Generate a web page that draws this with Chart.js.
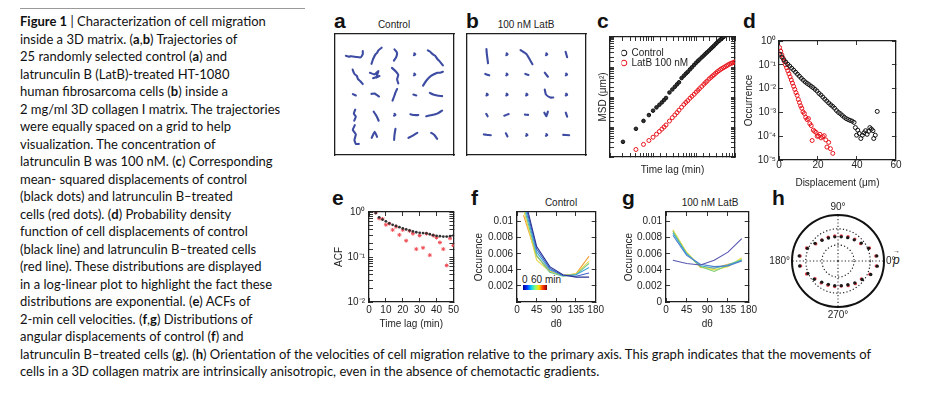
<!DOCTYPE html>
<html>
<head>
<meta charset="utf-8">
<title>Figure 1 - cell migration in 3D matrix</title>
<script src="https://cdn.jsdelivr.net/npm/chart.js"></script>
<style>
  html, body { margin: 0; padding: 0; background: #fff; }
  #fig { position: relative; width: 926px; height: 394px; overflow: hidden; background: #fff; }
  #fig canvas { position: absolute; }
  .rule { position: absolute; left: 20px; top: 8px; width: 285px; height: 1px; background: #9a9a9a; }
  .cap { position: absolute; left: 20px; top: 13px; font-family: Lato, 'Open Sans', sans-serif; font-size: 13px; line-height: 17.5px; color: #111; white-space: nowrap; }
  .cap b { font-weight: 700; }
  .lab { position: absolute; font-family: 'Liberation Sans', Arial, sans-serif; font-weight: 700; font-size: 21px; line-height: 21px; color: #111; }
  .ttl { position: absolute; font-family: 'Liberation Sans', Arial, sans-serif; font-size: 10px; line-height: 10px; color: #222; white-space: nowrap; transform: translateX(-50%); }
  .small { position: absolute; font-family: 'Liberation Sans', Arial, sans-serif; font-size: 10px; line-height: 10px; color: #222; white-space: nowrap; }
  .cbar { position: absolute; left: 523px; top: 285px; width: 24px; height: 5px;
          background: linear-gradient(to right, #00008f, #0030ff, #00c8ff, #80ff80, #ffe000, #ff3000, #800000); }
</style>
</head>
<body>
<div id="fig">
  <div class="rule"></div>
  <div class="cap"><b>Figure 1</b> | Characterization of cell migration<br>inside a 3D matrix. (<b>a</b>,<b>b</b>) Trajectories of<br>25 randomly selected control (<b>a</b>) and<br>latrunculin B (LatB)-treated HT-1080<br>human fibrosarcoma cells (<b>b</b>) inside a<br>2 mg/ml 3D collagen I matrix. The trajectories<br>were equally spaced on a grid to help<br>visualization. The concentration of<br>latrunculin B was 100 nM. (<b>c</b>) Corresponding<br>mean- squared displacements of control<br>(black dots) and latrunculin B–treated<br>cells (red dots). (<b>d</b>) Probability density<br>function of cell displacements of control<br>(black line) and latrunculin B–treated cells<br>(red line). These distributions are displayed<br>in a log-linear plot to highlight the fact these<br>distributions are exponential. (<b>e</b>) ACFs of<br>2-min cell velocities. (<b>f</b>,<b>g</b>) Distributions of<br>angular displacements of control (<b>f</b>) and<br>latrunculin B–treated cells (<b>g</b>). (<b>h</b>) Orientation of the velocities of cell migration relative to the primary axis. This graph indicates that the movements of<br>cells in a 3D collagen matrix are intrinsically anisotropic, even in the absence of chemotactic gradients.</div>

  <div class="lab" style="left:334px;top:10px">a</div>
  <div class="lab" style="left:466px;top:10px">b</div>
  <div class="lab" style="left:597px;top:10px">c</div>
  <div class="lab" style="left:743px;top:10px">d</div>
  <div class="lab" style="left:332px;top:187px">e</div>
  <div class="lab" style="left:471px;top:187px">f</div>
  <div class="lab" style="left:622px;top:187px">g</div>
  <div class="lab" style="left:772px;top:187px">h</div>

  <div class="ttl" style="left:394px;top:20px">Control</div>
  <div class="ttl" style="left:526px;top:20px">100 nM LatB</div>
  <div class="ttl" style="left:561px;top:198px">Control</div>
  <div class="ttl" style="left:710px;top:198px">100 nM LatB</div>

  <div class="cbar"></div>
  <div class="small" style="left:522px;top:275px">0</div>
  <div class="small" style="left:531px;top:275px">60 min</div>

  <div class="small" style="left:893px;top:254px;font-size:12px;line-height:12px;font-style:italic">p</div>
  <div class="small" style="left:893px;top:247px;font-size:7px;line-height:7px">&#8594;</div>
</div>

<script>
// ======================= DATA =======================
// (a,b) trajectories: successive positions relative to the grid cell centre (grid units, y up)
const DOT = [[0, 0.04], [0.05, -0.01], [-0.02, -0.05]];
const trajControl = [
  [[-0.45,-0.08],[-0.3,-0.12],[-0.16,-0.1],[0.08,-0.14],[0.29,-0.16],[0.4,0],[0.4,0.16]],
  [[-0.16,-0.48],[-0.1,-0.3],[-0.08,-0.24],[0.05,0],[0.12,0.06],[0.19,0.19],[0.35,0.32]],
  [[0,0.24],[0.1,0.12],[0.13,0.03],[0.08,-0.16],[-0.03,-0.32]],
  DOT,
  [[-0.32,0.19],[-0.2,0.12],[-0.08,0],[0.05,-0.08],[0.16,-0.24],[0.3,-0.38],[0.44,-0.56]],
  [[-0.11,0.24],[-0.06,0.1],[0,0],[0.1,-0.08],[0.16,-0.24],[0.28,-0.34],[0.4,-0.48]],
  [[-0.24,0.08],[0,0],[0.19,0.16],[0.08,-0.16],[0.24,-0.08],[-0.08,-0.19]],
  [[-0.13,0.32],[0.08,0.13],[0.19,-0.03],[0.13,-0.24],[0.19,-0.45]],
  DOT,
  [[-0.56,-0.56],[-0.4,-0.32],[-0.16,-0.08],[0.16,0.08],[0.3,0.08],[0.44,0.13]],
  [[-0.1,0.02],[0.05,-0.05]],
  [[-0.16,0.03],[0,0.05],[0.1,-0.02],[0.22,-0.1]],
  [[-0.1,-0.3],[0,-0.05],[0.04,0.08],[0.13,0.27]],
  [[-0.05,0],[0.1,-0.05]],
  [[-0.22,0.08],[-0.05,0],[0.15,-0.05],[0.4,-0.08]],
  [[0.02,0.25],[-0.05,0.05],[0.05,-0.1],[-0.03,-0.3]],
  [[-0.05,0.15],[0.05,0],[0.12,-0.12],[0.2,-0.3]],
  DOT,
  [[-0.2,0.02],[0,-0.02],[0.2,-0.02]],
  [[-0.4,-0.08],[-0.1,-0.02],[0.15,0.05],[0.4,0.2]],
  [[0,0.48],[-0.1,0.25],[0.05,0.02],[-0.02,-0.25],[0.05,-0.45],[0.2,-0.45]],
  [[-0.15,-0.15],[0,0.15],[0.12,-0.1]],
  [[0.05,0.3],[0,0],[-0.02,-0.25]],
  [[-0.3,-0.15],[-0.1,-0.05],[0.15,0.1]],
  [[-0.15,0.1],[0,0],[0.15,-0.2],[0.05,-0.05]]
];
const trajLatB = [
  [[-0.02,0.25],[0,0],[0.06,-0.45]],
  DOT,
  [[-0.3,0.2],[0,0],[0.3,-0.5]],
  DOT,
  [[-0.03,0.12],[0.05,-0.15]],
  [[-0.08,0.02],[0.12,-0.05]],
  DOT,
  [[-0.06,0.02],[0.1,-0.03]],
  [[-0.08,0.08],[0.08,-0.12]],
  DOT,
  DOT,
  DOT,
  DOT,
  [[-0.08,0.25],[-0.02,0],[0.2,-0.15],[0.35,-0.15]],
  DOT,
  [[-0.03,0.04],[0.04,-0.08]],
  [[-0.12,-0.05],[0.1,0.03]],
  [[-0.08,0],[0.08,-0.01]],
  [[-0.1,0.1],[0,-0.08],[0.08,0.15]],
  [[-0.02,0.1],[0.05,-0.1]],
  [[-0.15,0.02],[0,0],[0.2,-0.02]],
  [[-0.04,0.08],[0.04,-0.08]],
  DOT,
  DOT,
  [[-0.15,0],[0.15,-0.02]]
];

// (c) mean-squared displacement vs time lag (min)
const msdLag = [2,4,6,8,10,12,14,16,18,20,24,28,32,36,40,46,52,58,64,72,80,90,100,110,120,135,150,165,180,200,220,240,260,285,310,340,370,400,435,470,510,550,600,650,700,760,800];
const msdControl = [3.2,8.7,16,25,35,45,55,66,79,93,141,178,219,263,309,427,513,603,692,832,977,1175,1380,1585,1778,2089,2399,2754,3090,3548,4074,4571,5129,5888,6607,7413,8318,9120,10000,null,null,null,null,null,null,null,null];
const msdLatB = [null,1.78,2.63,3.55,4.57,5.75,7.08,8.5,10,11.7,15.8,20.4,25.1,30.2,36.3,45.7,56.2,66,75.9,91,105,123,145,166,190,224,263,302,339,398,447,501,550,617,692,759,832,891,955,1023,1096,1175,1259,1318,1380,1445,1479];
const msdNames = ['Control', 'LatB 100 nM'];

// (d) displacement probability density
const dispControl = [0.5,1.5,2.5,3.5,4.5,5.5,6.5,7.5,8.5,9.5,10.5,11.5,12.5,13.5,14.5,15.5,16.5,17.5,18.5,19.5,20.5,21.5,22.5,23.5,24.5,25.5,26.5,27.5,28.5,29.5,30.5,31.5,32.5,33.5,34.5,35.5,36.5,37.5,38.5,39.2,39.8,40.4,41.2,42,42.8,43.6,44.4,45.2,46,46.6,47.4,48.2,48.6,49.4,50.4];
const pdfControl = [0.28,0.21,0.16,0.13,0.105,0.088,0.072,0.06,0.049,0.04,0.033,0.027,0.0225,0.019,0.0165,0.0145,0.0125,0.011,0.0093,0.0079,0.0063,0.0054,0.0044,0.0036,0.003,0.0025,0.0021,0.0018,0.0015,0.0012,0.001,0.00088,0.00074,0.00063,0.00055,0.0005,0.00046,0.00043,0.00038,0.00023,0.00011,0.00018,0.00013,0.00008,0.00011,0.00014,0.00017,0.00012,0.00016,0.00023,0.0002,0.00017,0.00008,0.00011,0.0011];
const dispLatB = [0.3,0.9,1.5,2.1,2.7,3.3,3.9,4.5,5.1,5.7,6.3,6.9,7.5,8.1,8.7,9.3,9.9,10.5,11.1,11.7,12.3,13,13.7,14.4,15.1,15.8,16.5,17,17.6,18.3,19,19.6,20.3,21,21.6,22.4,23.2,24,24.6,25.5,26.4,27.6];
const pdfLatB = [0.53,0.37,0.26,0.19,0.14,0.1,0.075,0.056,0.042,0.031,0.023,0.017,0.0125,0.0093,0.0068,0.0052,0.0035,0.0026,0.0019,0.0015,0.00105,0.0009,0.00062,0.0005,0.00055,0.00034,0.00028,0.000066,0.00018,0.00016,0.000145,0.0001,0.0001,0.00012,0.000085,0.000095,0.000105,0.00007,0.000035,0.000055,0.00003,0.000019];

// (e) velocity autocorrelation
const acfLag = [4,6,8,10,12,14,16,18,20,22,24,26,28,30,32,34,36,38,40,42,44,46,48,50];
const acfControl = [0.95,0.76,0.68,0.62,0.56,0.52,0.49,0.46,0.43,0.41,0.39,0.37,0.355,0.345,0.34,0.335,0.32,0.305,0.295,0.29,0.285,0.285,0.29,0.3];
const acfLatB = [0.98,0.72,0.7,0.52,0.55,0.4,0.47,0.31,0.4,0.23,0.38,0.33,0.15,0.3,0.16,0.33,0.11,0.3,0.27,0.21,0.15,0.065,0.26,0.18];

// (f,g) angular displacement distributions, one curve per time lag
const dthetaBins = [15, 45, 75, 105, 135, 165];
const angControl = [
  [0.0135,0.0069,0.0044,0.0034,0.0031,0.0031],
  [0.013,0.0066,0.0042,0.0033,0.0032,0.0036],
  [0.0125,0.0062,0.004,0.0033,0.0034,0.0043],
  [0.012,0.0058,0.0037,0.0032,0.0034,0.0048],
  [0.0115,0.0052,0.0038,0.0033,0.0035,0.0051],
  [0.0108,0.0057,0.0039,0.0033,0.0035,0.0057]
];
const angLatB = [
  [0.0052,0.0048,0.0046,0.0052,0.0062,0.0079],
  [0.0083,0.0058,0.0047,0.0044,0.0045,0.0051],
  [0.0086,0.006,0.0045,0.0042,0.0046,0.0052],
  [0.0088,0.006,0.0044,0.0038,0.0046,0.0053],
  [0.009,0.0062,0.0044,0.004,0.0044,0.0055],
  [0.0089,0.0061,0.0043,0.0042,0.0047,0.0051]
];

// (h) orientation of velocities, polar
const orientAngles = [7.5,22.5,37.5,52.5,67.5,82.5,97.5,112.5,127.5,142.5,157.5,172.5,187.5,202.5,217.5,232.5,247.5,262.5,277.5,292.5,307.5,322.5,337.5,352.5];
const orientControl = [0.85,0.72,0.64,0.58,0.55,0.53,0.53,0.54,0.57,0.63,0.72,0.85,0.84,0.71,0.65,0.58,0.55,0.54,0.54,0.56,0.6,0.66,0.77,0.86];
const orientLatB = [0.83,0.74,0.62,0.6,0.57,0.55,0.55,0.56,0.58,0.61,0.74,0.83,0.82,0.74,0.63,0.6,0.57,0.56,0.55,0.58,0.62,0.64,0.75,0.84];
const orientGrid = [0.35, 0.7, 1];
const orientAxisLabels = {0: '0°', 90: '90°', 180: '180°', 270: '270°'};

// ======================= STYLE / HELPERS =======================
const FONT = "'Liberation Sans', Arial, Helvetica, sans-serif";
const INK = '#1e1e1e';
const TICKF = { family: FONT, size: 10 };
const TRAJ = '#3d4ca2';
const RED = '#e8141c';
const LAG_COLORS_F = ['#283593', '#3f63c9', '#3fa6d8', '#6cc58a', '#e3d94a', '#f2a13a'];
const LAG_COLORS_G = ['#5656b0', '#4d7fd0', '#43b0c8', '#7ccf70', '#e8e04c', '#f0a340'];
Chart.defaults.font.family = FONT;
Chart.defaults.color = INK;

const SUP = {'0':'\u2070','1':'\u00B9','2':'\u00B2','3':'\u00B3','4':'\u2074','5':'\u2075','6':'\u2076','7':'\u2077','8':'\u2078','9':'\u2079','-':'\u207B'};
const isPow10 = v => Math.abs(Math.log10(v) - Math.round(Math.log10(v))) < 1e-6;
const pow10Label = v => isPow10(v) ? '10' + String(Math.round(Math.log10(v))).split('').map(c => SUP[c]).join('') : '';

function makeCanvas(left, top, w, h) {
  const c = document.createElement('canvas');
  c.width = w; c.height = h;
  c.style.left = left + 'px'; c.style.top = top + 'px';
  c.style.width = w + 'px'; c.style.height = h + 'px';
  document.getElementById('fig').appendChild(c);
  return c;
}

function boxScales(o) {
  const mk = (pos, isX, main) => {
    const s = {
      type: isX ? o.xType : o.yType,
      position: pos,
      min: isX ? o.xMin : o.yMin,
      max: isX ? o.xMax : o.yMax,
      grid: { display: o.ticks !== false, drawOnChartArea: false, tickLength: -4, color: INK, lineWidth: 0.9 },
      border: { display: true, color: INK, width: 1.3 },
      ticks: { display: false, autoSkip: false, maxRotation: 0, minRotation: 0, color: INK, font: TICKF, includeBounds: false },
      title: { display: false }
    };
    const step = isX ? o.xStep : o.yStep;
    if (step) s.ticks.stepSize = step;
    const filt = isX ? o.xFilter : o.yFilter;
    if (filt) s.afterBuildTicks = sc => { sc.ticks = sc.ticks.filter(t => filt(t.value)); };
    if (main) {
      const lab = isX ? o.xLabel : o.yLabel;
      if (lab) { s.ticks.display = true; s.ticks.callback = lab; s.ticks.padding = isX ? o.xPad : o.yPad; }
      const ttl = isX ? o.xTitle : o.yTitle;
      if (ttl) s.title = { display: true, text: ttl, color: INK, font: { family: FONT, size: 10 },
                           padding: isX ? { top: 0, bottom: 0 } : { top: o.yTitlePad, bottom: 0 } };
      s.afterFit = isX ? (sc => { sc.height = o.xH; }) : (sc => { sc.width = o.yW; });
    } else {
      s.afterFit = isX ? (sc => { sc.height = 0; }) : (sc => { sc.width = 0; });
    }
    return s;
  };
  return { x: mk('bottom', true, true), x2: mk('top', true, false), y: mk('left', false, true), y2: mk('right', false, false) };
}

function baseOptions(pad, scales, plugins) {
  return {
    responsive: false, animation: false, devicePixelRatio: 1, events: [],
    layout: { padding: pad },
    plugins: Object.assign({ legend: { display: false }, tooltip: { enabled: false }, title: { display: false } }, plugins || {}),
    scales
  };
}

const legendPlace = {
  id: 'legendPlace',
  afterLayout(chart, args, opts) {
    const L = chart.legend;
    if (!L || opts.dx === undefined) return;
    const w = L.width, h = L.height;
    L.left = chart.chartArea.left + opts.dx; L.top = chart.chartArea.top + opts.dy;
    L.right = L.left + w; L.bottom = L.top + h;
  }
};

function pairs(xs, ys) {
  const out = [];
  xs.forEach((x, i) => { if (ys[i] !== null && ys[i] !== undefined) out.push({ x, y: ys[i] }); });
  return out;
}

// ======================= (a), (b) trajectories =======================
function trajDatasets(trajs) {
  return trajs.map((steps, i) => {
    const col = (i % 5) + 1, row = 5 - Math.floor(i / 5);
    return {
      data: steps.map(([dx, dy]) => ({ x: col + dx, y: row + dy })),
      showLine: true, borderColor: TRAJ, borderWidth: 2.1, pointRadius: 0, tension: 0.15,
      borderCapStyle: 'round', borderJoinStyle: 'round', xAxisID: 'x', yAxisID: 'y'
    };
  });
}
const trajScales = () => boxScales({ xType: 'linear', yType: 'linear', xMin: 0, xMax: 6, yMin: 0, yMax: 6, ticks: false, xH: 0, yW: 0 });

new Chart(makeCanvas(330, 30, 130, 130), {
  type: 'scatter',
  data: { datasets: trajDatasets(trajControl) },
  options: baseOptions({ left: 5, top: 4, right: 6, bottom: 5 }, trajScales())
});
new Chart(makeCanvas(462, 30, 130, 130), {
  type: 'scatter',
  data: { datasets: trajDatasets(trajLatB) },
  options: baseOptions({ left: 5, top: 4, right: 6, bottom: 5 }, trajScales())
});

// ======================= (c) MSD =======================
new Chart(makeCanvas(590, 30, 150, 150), {
  type: 'scatter',
  data: { datasets: [
    { label: msdNames[0], data: pairs(msdLag, msdControl), pointRadius: 1.8, pointBorderWidth: 1, borderWidth: 1,
      borderColor: '#111', backgroundColor: '#333', xAxisID: 'x', yAxisID: 'y' },
    { label: msdNames[1], data: pairs(msdLag, msdLatB), pointRadius: 2, pointBorderWidth: 1, borderWidth: 1,
      borderColor: RED, backgroundColor: 'rgba(0,0,0,0)', xAxisID: 'x', yAxisID: 'y' }
  ]},
  options: baseOptions({ left: 0, top: 7, right: 5, bottom: 4 },
    boxScales({ xType: 'logarithmic', yType: 'logarithmic', xMin: 1, xMax: 800, yMin: 1, yMax: 10000,
      xTitle: 'Time lag (min)', yTitle: 'MSD (\u03BCm\u00B2)', xH: 19, yW: 20, yTitlePad: 7 }),
    { legend: { display: true, position: 'chartArea', align: 'start',
        labels: { usePointStyle: true, pointStyle: 'circle', boxWidth: 5, boxHeight: 4, padding: 0, color: INK,
                  font: { family: FONT, size: 10 },
                  generateLabels: chart => chart.data.datasets.map((ds, i) => ({
                    text: ds.label, fillStyle: 'rgba(0,0,0,0)', strokeStyle: ds.borderColor, lineWidth: 1,
                    pointStyle: 'circle', hidden: false, datasetIndex: i, fontColor: INK })) } },
      legendPlace: { dx: 11.5, dy: 11 } }),
  plugins: [legendPlace]
});

// ======================= (d) displacement PDF =======================
new Chart(makeCanvas(740, 28, 165, 170), {
  type: 'scatter',
  data: { datasets: [
    { data: pairs(dispControl, pdfControl), pointRadius: 2, pointBorderWidth: 1, borderColor: '#111',
      backgroundColor: 'rgba(0,0,0,0)', xAxisID: 'x', yAxisID: 'y' },
    { data: pairs(dispLatB, pdfLatB), pointRadius: 2, pointBorderWidth: 1, borderColor: RED,
      backgroundColor: 'rgba(0,0,0,0)', xAxisID: 'x', yAxisID: 'y' }
  ]},
  options: baseOptions({ left: 0, top: 10, right: 8, bottom: 9 },
    boxScales({ xType: 'linear', yType: 'logarithmic', xMin: 0, xMax: 60, xStep: 20, yMin: 1e-5, yMax: 1,
      yFilter: isPow10, xLabel: v => String(v), yLabel: pow10Label, xPad: 3.5, yPad: 7,
      xTitle: 'Displacement (\u03BCm)', yTitle: 'Occurrence', xH: 29, yW: 39, yTitlePad: 3 }))
});

// ======================= (e) ACF =======================
new Chart(makeCanvas(330, 198, 135, 137), {
  type: 'scatter',
  data: { datasets: [
    { data: pairs(acfLag, acfControl), pointRadius: 1.4, pointBorderWidth: 0, backgroundColor: '#333',
      borderColor: '#333', xAxisID: 'x', yAxisID: 'y' },
    { data: pairs(acfLag, acfLatB), pointStyle: 'star', pointRadius: 2, pointBorderWidth: 1,
      borderColor: '#ef4d57', backgroundColor: '#ef4d57', xAxisID: 'x', yAxisID: 'y' }
  ]},
  options: baseOptions({ left: 0, top: 13, right: 7, bottom: 5 },
    boxScales({ xType: 'linear', yType: 'logarithmic', xMin: 0, xMax: 50, xStep: 10, yMin: 0.01, yMax: 1,
      xLabel: v => String(v), yLabel: pow10Label, xPad: 6, yPad: 8,
      xTitle: 'Time lag (min)', yTitle: 'ACF', xH: 28, yW: 39, yTitlePad: 3 }))
});

// ======================= (f), (g) angular distributions =======================
function angDatasets(curves, colors) {
  return curves.map((vals, i) => ({
    data: pairs(dthetaBins, vals), showLine: true, borderColor: colors[i], borderWidth: 1.1,
    pointRadius: 0, tension: 0, xAxisID: 'x', yAxisID: 'y'
  }));
}
const angScales = (zeroLabel, yTitlePad) => boxScales({
  xType: 'linear', yType: 'linear', xMin: 0, xMax: 180, xStep: 45, yMin: 0, yMax: 0.0112, yStep: 0.002,
  xLabel: v => String(v), yLabel: v => (v === 0 ? zeroLabel : String(+v.toFixed(3))), xPad: 6, yPad: 8,
  xTitle: 'd\u03B8', yTitle: 'Occurence', xH: 28, yW: 47, yTitlePad });

new Chart(makeCanvas(470, 198, 140, 137), {
  type: 'scatter',
  data: { datasets: angDatasets(angControl, LAG_COLORS_F) },
  options: baseOptions({ left: 0, top: 13, right: 9, bottom: 5 }, angScales('', 3))
});
new Chart(makeCanvas(619, 198, 144, 137), {
  type: 'scatter',
  data: { datasets: angDatasets(angLatB, LAG_COLORS_G) },
  options: baseOptions({ left: 0, top: 13, right: 9, bottom: 5 }, angScales('0', 4))
});

// ======================= (h) polar orientation =======================
const N_SPOKES = 48;           // 7.5 degree spokes; index 0 at 0 deg, counter-clockwise
const hLabels = [], hCtl = [], hLat = [];
for (let i = 0; i < N_SPOKES; i++) {
  const a = (360 - i * 360 / N_SPOKES) % 360;
  hLabels.push(orientAxisLabels[a] !== undefined ? orientAxisLabels[a] : '');
  hCtl.push(null); hLat.push(null);
}
orientAngles.forEach((a, k) => {
  const i = Math.round(((360 - a) % 360) / (360 / N_SPOKES));
  hCtl[i] = orientControl[k]; hLat[i] = orientLatB[k];
});

new Chart(makeCanvas(757, 201, 160, 120), {
  type: 'radar',
  data: { labels: hLabels, datasets: [
    { data: hCtl, showLine: false, fill: false, borderWidth: 0, pointRadius: 1.7, pointBorderWidth: 0,
      pointBackgroundColor: '#1a1a1a' },
    { data: hLat, showLine: false, fill: false, borderWidth: 0, pointRadius: 1.7, pointBorderWidth: 0,
      pointBackgroundColor: '#e5434d' }
  ]},
  options: {
    responsive: false, animation: false, devicePixelRatio: 1, events: [],
    layout: { padding: 0 },
    plugins: { legend: { display: false }, tooltip: { enabled: false } },
    scales: { r: {
      min: 0, max: 1, startAngle: 90,
      afterBuildTicks: sc => { sc.ticks = [0].concat(orientGrid).map(v => ({ value: v })); },
      ticks: { display: false },
      grid: { circular: true, color: '#111', lineWidth: c => (c.tick && c.tick.value === 1 ? 2 : 1.1) },
      border: { dash: c => (c.tick && c.tick.value === 1 ? [] : [1.2, 2.2]) },
      angleLines: { display: true, color: c => (c.label ? '#222' : 'rgba(0,0,0,0)'),
                    lineWidth: c => (c.label ? 1.1 : 0), borderDash: [1.2, 2.2] },
      pointLabels: { display: true, padding: 2, color: INK, font: { family: FONT, size: 10 } }
    } }
  }
});
</script>
</body>
</html>
